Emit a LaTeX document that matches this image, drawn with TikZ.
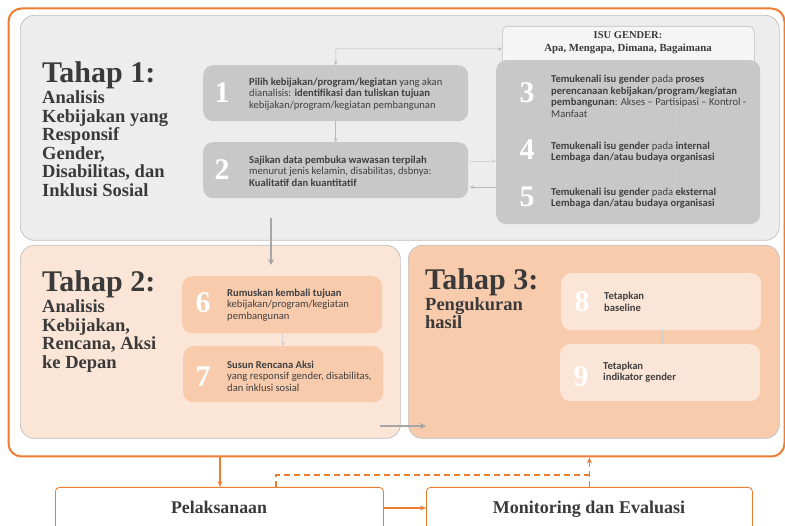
\documentclass[tikz,border=0pt]{standalone}
\usepackage{fontspec}
\setmainfont{Liberation Serif}
\newfontfamily\bodyfont{Carlito}
\usetikzlibrary{arrows.meta}
\definecolor{accent}{HTML}{ED7D31}
\definecolor{panelgray}{HTML}{EDEDED}
\definecolor{panelline}{HTML}{BFBFBF}
\definecolor{boxgray}{HTML}{C8C8C8}
\definecolor{peachL}{HTML}{FBE5D6}
\definecolor{peachD}{HTML}{F8CBAD}
\definecolor{headtxt}{HTML}{3A3A3A}
\definecolor{bodytxt}{HTML}{404040}
\definecolor{arrowgray}{HTML}{A6A6A6}
\tikzset{
  panel/.style={draw=panelline, line width=0.7pt, rounded corners=14pt, anchor=north west, inner sep=0pt},
  stepbox/.style={rounded corners=10pt, anchor=north west, inner sep=0pt, draw=none},
  numtxt/.style={text=white, font=\bfseries\fontsize{30}{30}\selectfont, inner sep=0pt},
  bodytext/.style={anchor=west, inner sep=0pt, align=left, text=bodytxt, font=\bodyfont\fontsize{10.6}{11.6}\selectfont},
  headtitle/.style={anchor=base west, inner sep=0pt, text=headtxt, font=\bfseries\fontsize{30}{30}\selectfont},
  headsub/.style={anchor=north west, inner sep=0pt, align=left, text=headtxt, font=\bfseries\fontsize{18.5}{18.6}\selectfont},
  thinarrow/.style={draw=arrowgray!80, line width=0.5pt, -{Stealth[length=4pt,width=3.5pt]}},
  bigarrow/.style={draw=arrowgray, line width=1.8pt, -{Stealth[length=6pt,width=6pt]}},
  orangearrow/.style={draw=accent, line width=1.6pt, -{Stealth[length=6pt,width=5pt]}},
  bottombox/.style={draw=accent, line width=0.8pt, fill=white, rounded corners=4pt, anchor=north west, inner sep=0pt},
}
\begin{document}
\begin{tikzpicture}[x=1pt,y=-1pt]
\useasboundingbox (0,0) rectangle (785,526);
\clip (0,0) rectangle (785,526);
\fill[white] (0,0) rectangle (785,526);
% outer frame
\node[draw=accent, line width=2pt, rounded corners=13pt, anchor=north west, inner sep=0pt,
      minimum width=776pt, minimum height=448pt] (outer) at (7.5,7.5) {};
% panels
\node[panel, fill=panelgray, minimum width=759pt, minimum height=225pt] (t1) at (20,15) {};
\node[panel, fill=peachL, minimum width=380pt, minimum height=193pt] (t2) at (20,245) {};
\node[panel, fill=peachD, minimum width=371pt, minimum height=193pt] (t3) at (408,245) {};
% ISU box and big box
\node[draw=panelline, line width=0.6pt, fill=white!96!black, rounded corners=6pt, anchor=north west,
      inner sep=0pt, minimum width=252pt, minimum height=40pt] (isu) at (502,26) {};
\node[anchor=base, inner sep=0pt, text=headtxt, font=\bfseries\fontsize{10.5}{11}\selectfont] (isut1) at (628,39) {ISU GENDER:};
\node[anchor=base, inner sep=0pt, text=headtxt, font=\bfseries\fontsize{10.8}{11}\selectfont] (isut2) at (628,52) {Apa, Mengapa, Dimana, Bagaimana};
\node[stepbox, fill=boxgray, minimum width=264pt, minimum height=164pt] (big) at (496,60) {};
% step boxes
\node[stepbox, fill=boxgray, minimum width=265pt, minimum height=56pt] (b1) at (203,65) {};
\node[stepbox, fill=boxgray, minimum width=265pt, minimum height=56pt] (b2) at (203,142) {};
\node[stepbox, fill=peachD, minimum width=200pt, minimum height=57pt] (b6) at (182,276) {};
\node[stepbox, fill=peachD, minimum width=200pt, minimum height=56pt] (b7) at (183,346) {};
\node[stepbox, fill=peachL, minimum width=200pt, minimum height=57pt] (b8) at (561,273) {};
\node[stepbox, fill=peachL, minimum width=200pt, minimum height=57pt] (b9) at (560,344) {};
% headings
\node[headtitle] (h1) at (42,83) {Tahap 1:};
\node[headsub] (s1) at (42,90.5) {Analisis\\Kebijakan yang\\Responsif\\Gender,\\Disabilitas, dan\\Inklusi Sosial};
\node[headtitle] (h2) at (42,292) {Tahap 2:};
\node[headsub] (s2) at (42,299.5) {Analisis\\Kebijakan,\\Rencana, Aksi\\ke Depan};
\node[headtitle] (h3) at (425,290) {Tahap 3:};
\node[headsub] (s3) at (425,297) {Pengukuran\\hasil};
% numbers
\node[numtxt] (n1) at (222,93) {1};
\node[numtxt] (n2) at (222,170) {2};
\node[numtxt] (n3) at (527,93) {3};
\node[numtxt] (n4) at (527,150) {4};
\node[numtxt] (n5) at (527,197) {5};
\node[numtxt] (n6) at (203,303) {6};
\node[numtxt] (n7) at (203,377) {7};
\node[numtxt] (n8) at (582,302) {8};
\node[numtxt] (n9) at (581,377) {9};
% body texts
\node[bodytext] (x1) at (249,94) {\textbf{Pilih kebijakan/program/kegiatan} yang akan\\dianalisis: \textbf{identifikasi dan tuliskan tujuan}\\kebijakan/program/kegiatan pembangunan};
\node[bodytext] (x2) at (249,171) {\textbf{Sajikan data pembuka wawasan terpilah}\\menurut jenis kelamin, disabilitas, dsbnya:\\\textbf{Kualitatif dan kuantitatif}};
\node[bodytext] (x3) at (551,96.5) {\textbf{Temukenali isu gender} pada \textbf{proses}\\\textbf{perencanaan kebijakan/program/kegiatan}\\\textbf{pembangunan}: Akses – Partisipasi – Kontrol -\\Manfaat};
\node[bodytext] (x4) at (551,152) {\textbf{Temukenali isu gender} pada \textbf{internal}\\\textbf{Lembaga dan/atau budaya organisasi}};
\node[bodytext] (x5) at (551,198) {\textbf{Temukenali isu gender} pada \textbf{eksternal}\\\textbf{Lembaga dan/atau budaya organisasi}};
\node[bodytext] (x6) at (227,305) {\textbf{Rumuskan kembali tujuan}\\kebijakan/program/kegiatan\\pembangunan};
\node[bodytext] (x7) at (227,376) {\textbf{Susun Rencana Aksi}\\yang responsif gender, disabilitas,\\dan inklusi sosial};
\node[bodytext] (x8) at (604,302) {\textbf{Tetapkan}\\\textbf{baseline}};
\node[bodytext] (x9) at (603,372) {\textbf{Tetapkan}\\\textbf{indikator gender}};
% bottom boxes
\node[bottombox, minimum width=328pt, minimum height=60pt] (pel) at (55,487) {};
\node[bottombox, minimum width=326pt, minimum height=60pt] (mon) at (426,487) {};
\node[anchor=base, inner sep=0pt, text=headtxt, font=\bfseries\fontsize{17.8}{18}\selectfont] (pelt) at (219,514) {Pelaksanaan};
\node[anchor=base, inner sep=0pt, text=headtxt, font=\bfseries\fontsize{18}{18}\selectfont] (mont) at (589,514) {Monitoring dan Evaluasi};
% connectors in Tahap 1
\coordinate (c1) at (336,49);
\draw[draw=arrowgray!80, line width=0.5pt, {Stealth[length=4pt,width=3.5pt]}-{Stealth[length=4pt,width=3.5pt]}]
  (b1.north) -- (c1) -- (isu.west |- c1);
\draw[thinarrow] (b1.south) -- (b2.north);
\coordinate (r1) at (470,161);
\coordinate (r2) at (470,187);
\draw[thinarrow, draw=arrowgray!50] (r1) -- (big.west |- r1);
\draw[thinarrow] (big.west |- r2) -- (r2);
\coordinate (a3) at (675,109);
\coordinate (a4) at (675,131);
\coordinate (a5) at (675,166);
\coordinate (a6) at (675,186);
\draw[thinarrow, draw=arrowgray!60] (a3) -- (a4);
\draw[thinarrow, draw=arrowgray!60] (a5) -- (a6);
\draw[thinarrow, draw=arrowgray!60] (b6.south) -- (b7.north);
\draw[thinarrow, draw=arrowgray!60] (b8.south -| 662,0) -- (b9.north -| 662,0);
% between panels
\coordinate (p1) at (271,218);
\draw[bigarrow] (p1) -- (271,265);
\coordinate (p2) at (380,426);
\draw[bigarrow, line width=1.5pt] (p2) -- (426,426);
% bottom connectors
\draw[orangearrow] (pel.north -| 220,0) ++(0,-30) -- (pel.north -| 220,0);
\draw[orangearrow, line width=2pt] (pel.east |- pelt.base) ++(0,-6) -- (mon.west |- 0,508);
\draw[draw=accent, line width=1.5pt, dash pattern=on 6pt off 4pt] (pel.north -| 276,0) |- (mon.north |- 0,475);
\draw[draw=accent, line width=1.5pt, dash pattern=on 6pt off 4pt, -{Stealth[length=6pt,width=5pt]}] (mon.north) -- (mon.north |- outer.south);
\end{tikzpicture}
\end{document}
